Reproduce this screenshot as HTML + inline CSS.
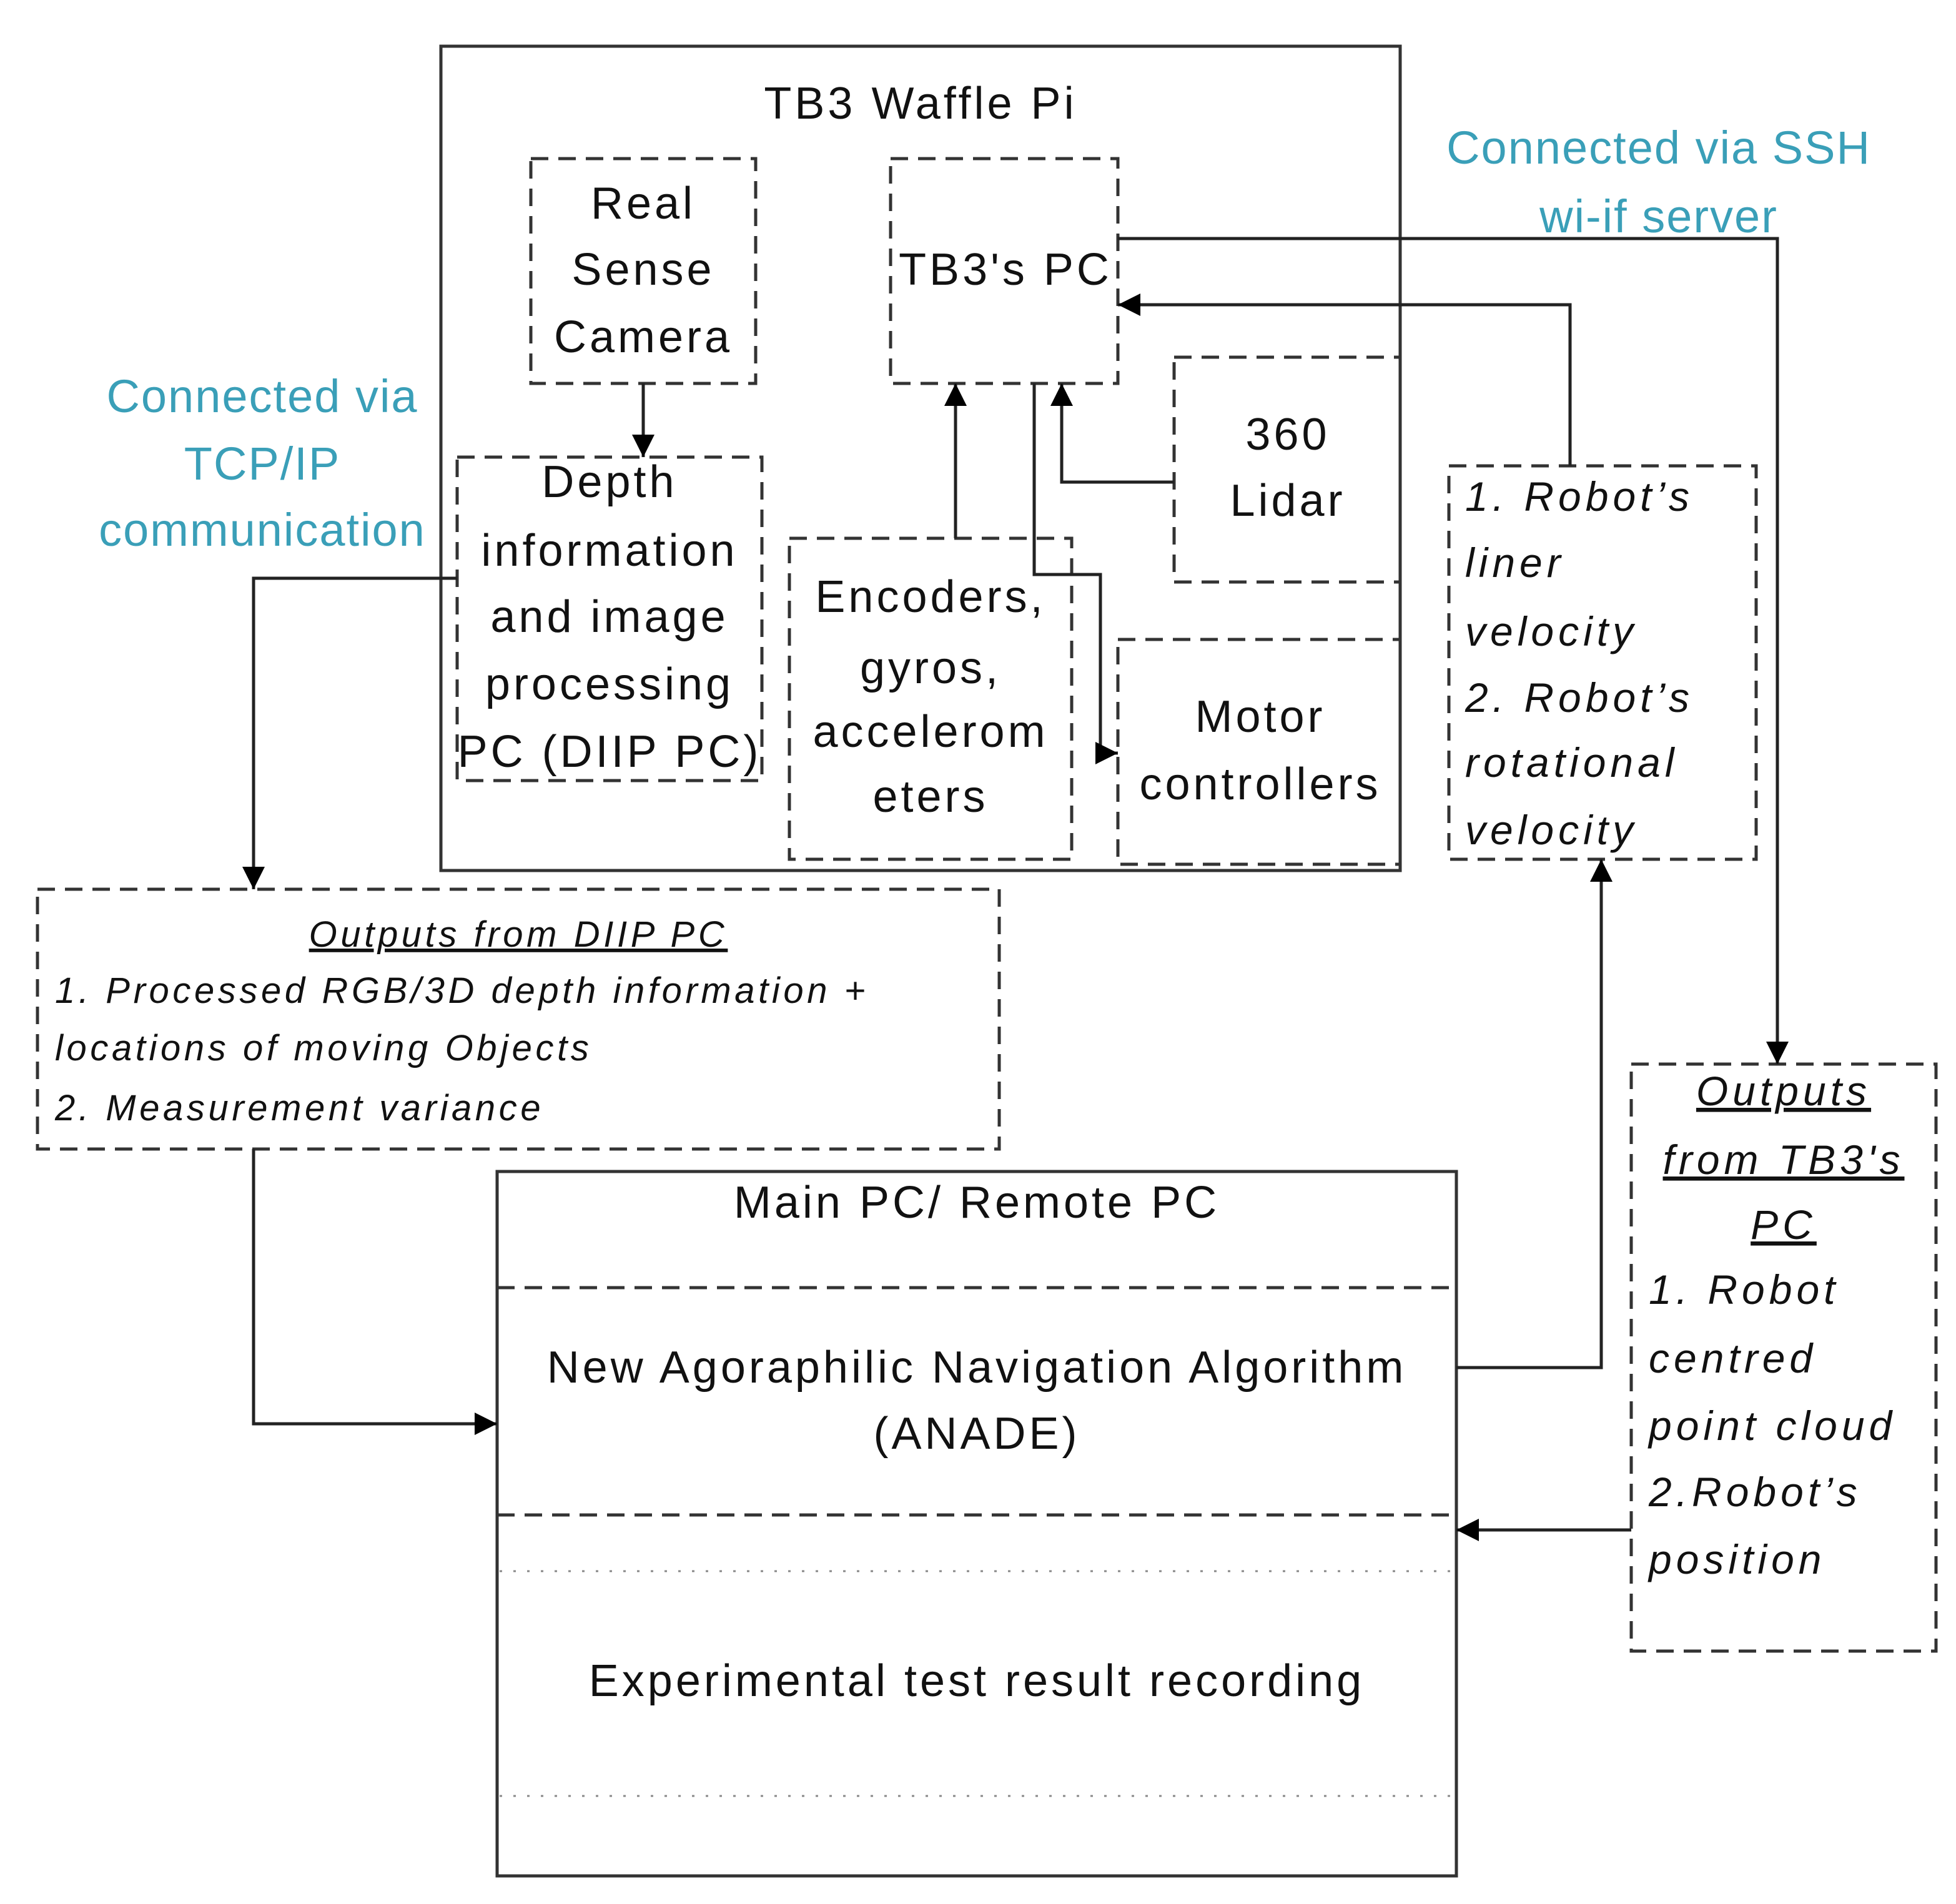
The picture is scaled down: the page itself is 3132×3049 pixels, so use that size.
<!DOCTYPE html>
<html><head><meta charset="utf-8"><style>
html,body{margin:0;padding:0;background:#fff}
svg{display:block}
text{font-family:"Liberation Sans",sans-serif;fill:#111}
.t text{font-size:36px;letter-spacing:2.5px}
.i text{font-size:33px;font-style:italic;letter-spacing:3.5px}
.s text{font-size:29px;font-style:italic;letter-spacing:2.8px}
.b text{font-size:37px;fill:#3a9fb8;letter-spacing:1px}
</style></head><body>
<svg width="3132" height="3049" viewBox="0 0 1566 1524.5" xmlns="http://www.w3.org/2000/svg">
<defs>
<marker id="A" viewBox="0 0 10 10" markerWidth="18" markerHeight="18" refX="10" refY="5" orient="auto" markerUnits="userSpaceOnUse"><path d="M0,0L10,5L0,10z" fill="#000"/></marker></defs>
<g fill="none" stroke="#333" stroke-width="2.5">
<rect x="353" y="37" width="768" height="660"/>
<rect x="398" y="938" width="768" height="564"/>
<g stroke-dasharray="14,8">
<rect x="425" y="127" width="180" height="180"/>
<rect x="713" y="127" width="182" height="180"/>
<rect x="366" y="366" width="244" height="259"/>
<rect x="632" y="431" width="226" height="257"/>
<rect x="940" y="286" width="181" height="180"/>
<rect x="895" y="512" width="226" height="180"/>
<rect x="1160" y="373" width="246" height="315"/>
<rect x="30" y="712" width="770" height="208"/>
<rect x="1306" y="852" width="244" height="470"/>
<line x1="398" y1="1031" x2="1166" y2="1031"/>
<line x1="398" y1="1213" x2="1166" y2="1213"/>
</g>
<g stroke="#888" stroke-width="1.5" stroke-dasharray="2,9">
<line x1="400" y1="1258" x2="1164" y2="1258"/>
<line x1="400" y1="1438" x2="1164" y2="1438"/>
</g>
<g marker-end="url(#A)" stroke="#222">
<polyline points="515,307 515,366"/>
<polyline points="765,431 765,307"/>
<polyline points="940,386 850,386 850,307"/>
<polyline points="828,307 828,460 881,460 881,603 895,603"/>
<polyline points="895,191 1423,191 1423,852"/>
<polyline points="1257,373 1257,244 895,244"/>
<polyline points="1166,1095 1282,1095 1282,688"/>
<polyline points="1306,1225 1166,1225"/>
<polyline points="366,463 203,463 203,712"/>
<polyline points="203,920 203,1140 398,1140"/>
</g>
</g>
<g class="t" text-anchor="middle">
<text x="737" y="95">TB3 Waffle Pi</text>
<text x="515" y="175">Real</text><text x="515" y="228">Sense</text><text x="515" y="282">Camera</text>
<text x="805" y="228">TB3's PC</text>
<text x="488" y="398">Depth</text><text x="488" y="453">information</text><text x="488" y="506">and image</text><text x="488" y="560">processing</text><text x="488" y="614">PC (DIIP PC)</text>
<text x="745" y="490">Encoders,</text><text x="745" y="547">gyros,</text><text x="745" y="598">accelerom</text><text x="745" y="650">eters</text>
<text x="1031" y="360">360</text><text x="1031" y="413">Lidar</text>
<text x="1009" y="586">Motor</text><text x="1009" y="640">controllers</text>
<text x="782" y="975">Main PC/ Remote PC</text>
<text x="782" y="1107">New Agoraphilic Navigation Algorithm</text>
<text x="782" y="1160">(ANADE)</text>
<text x="782" y="1358">Experimental test result recording</text>
</g>
<g class="i">
<text x="1173" y="409">1. Robot’s</text><text x="1173" y="462">liner</text><text x="1173" y="517">velocity</text><text x="1173" y="570">2. Robot’s</text><text x="1173" y="622">rotational</text><text x="1173" y="676">velocity</text>
<text x="1428" y="885" text-anchor="middle" text-decoration="underline">Outputs</text>
<text x="1428" y="940" text-anchor="middle" text-decoration="underline">from TB3's</text>
<text x="1428" y="992" text-anchor="middle" text-decoration="underline">PC</text>
<text x="1320" y="1044">1. Robot</text><text x="1320" y="1099">centred</text><text x="1320" y="1153">point cloud</text><text x="1320" y="1206">2.Robot’s</text><text x="1320" y="1260">position</text>
</g>
<g class="s">
<text x="415" y="758" text-anchor="middle" text-decoration="underline">Outputs from DIIP PC</text>
<text x="44" y="803">1. Processed RGB/3D depth information +</text>
<text x="44" y="849">locations of moving Objects</text>
<text x="44" y="897">2. Measurement variance</text>
</g>
<g class="b" text-anchor="middle">
<text x="1328" y="131">Connected  via SSH</text>
<text x="1328" y="186">wi-if server</text>
<text x="210" y="330">Connected via</text>
<text x="210" y="384">TCP/IP</text>
<text x="210" y="437">communication</text>
</g>
</svg>
</body></html>
